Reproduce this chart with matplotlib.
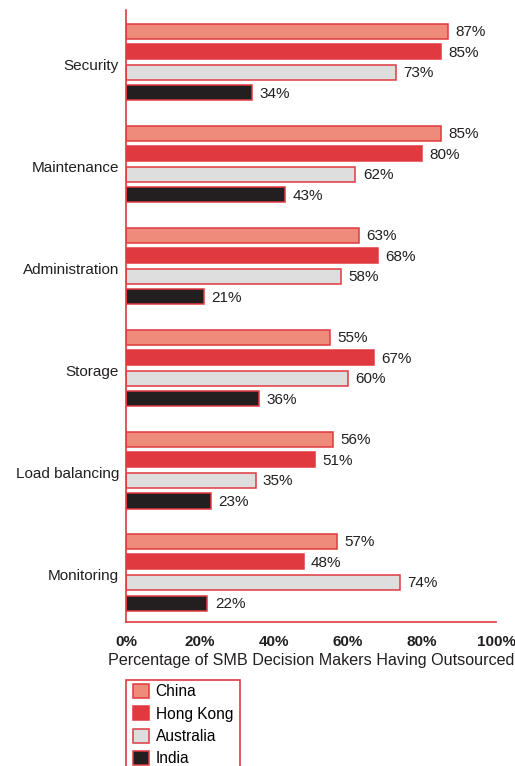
import matplotlib
matplotlib.use("Agg")
import matplotlib.pyplot as plt
from matplotlib.patches import Rectangle, Patch

plt.rcParams["font.family"] = ["Liberation Sans", "DejaVu Sans"]

CATEGORIES = ["Security", "Maintenance", "Administration", "Storage", "Load balancing", "Monitoring"]
SERIES = ["China", "Hong Kong", "Australia", "India"]
VALUES = {
    "China":     [87, 85, 63, 55, 56, 57],
    "Hong Kong": [85, 80, 68, 67, 51, 48],
    "Australia": [73, 62, 58, 60, 35, 74],
    "India":     [34, 43, 21, 36, 23, 22],
}
XTICKS = [0, 20, 40, 60, 80, 100]

RED = "#e03a40"
INK = "#231f20"
FILLS = {"China": "#ee8b7b", "Hong Kong": "#e03a40", "Australia": "#dedede", "India": "#231f20"}
EDGE_W = 1.1
GROUP = 4.95
BAR_H = 0.73

fig = plt.figure(figsize=(5.15, 7.66), dpi=100)
ax = fig.add_axes([126 / 515, 1 - 622 / 766, 370 / 515, 612 / 766])

for j, s in enumerate(SERIES):
    for g, v in enumerate(VALUES[s]):
        y = g * GROUP + j
        ax.barh(y, v, height=BAR_H, color=FILLS[s], edgecolor=RED, linewidth=EDGE_W)
        ax.text(v + 2.0, y + 0.05, f"{v}%", va="center", ha="left", fontsize=11, color=INK)

ax.set_ylim(len(CATEGORIES) * GROUP - GROUP + 3 + 0.92, -1.02)
ax.set_xlim(0, 100)
ax.set_yticks([g * GROUP + 1.6 for g in range(len(CATEGORIES))])
ax.set_yticklabels(CATEGORIES, fontsize=11, color=INK)
ax.set_xticks(XTICKS)
ax.set_xticklabels([f"{t}%" for t in XTICKS], fontsize=11, fontweight="bold", color=INK)
ax.tick_params(length=0, pad=5)
ax.tick_params(axis="x", pad=9)
ax.set_xlabel("Percentage of SMB Decision Makers Having Outsourced", fontsize=11.6,
              color=INK, labelpad=3)
for side in ("top", "right"):
    ax.spines[side].set_visible(False)
for side in ("left", "bottom"):
    ax.spines[side].set_color(RED)
    ax.spines[side].set_linewidth(1.2)

# legend box runs off the bottom edge
fig.patches.append(Rectangle((126 / 515, -0.02), 114 / 515, 0.02 + 86 / 766,
                             transform=fig.transFigure, fill=False,
                             edgecolor=RED, linewidth=1.2))
handles = [Patch(facecolor=FILLS[s], edgecolor=RED, linewidth=EDGE_W) for s in SERIES]
fig.legend(handles, SERIES, loc="upper left", bbox_to_anchor=(130 / 515, 1 - 681 / 766),
           frameon=False, fontsize=11.2, handlelength=1.0, handleheight=1.0,
           handletextpad=0.45, labelspacing=0.45, borderpad=0.2, borderaxespad=0)

fig.savefig("out.png", dpi=100)
